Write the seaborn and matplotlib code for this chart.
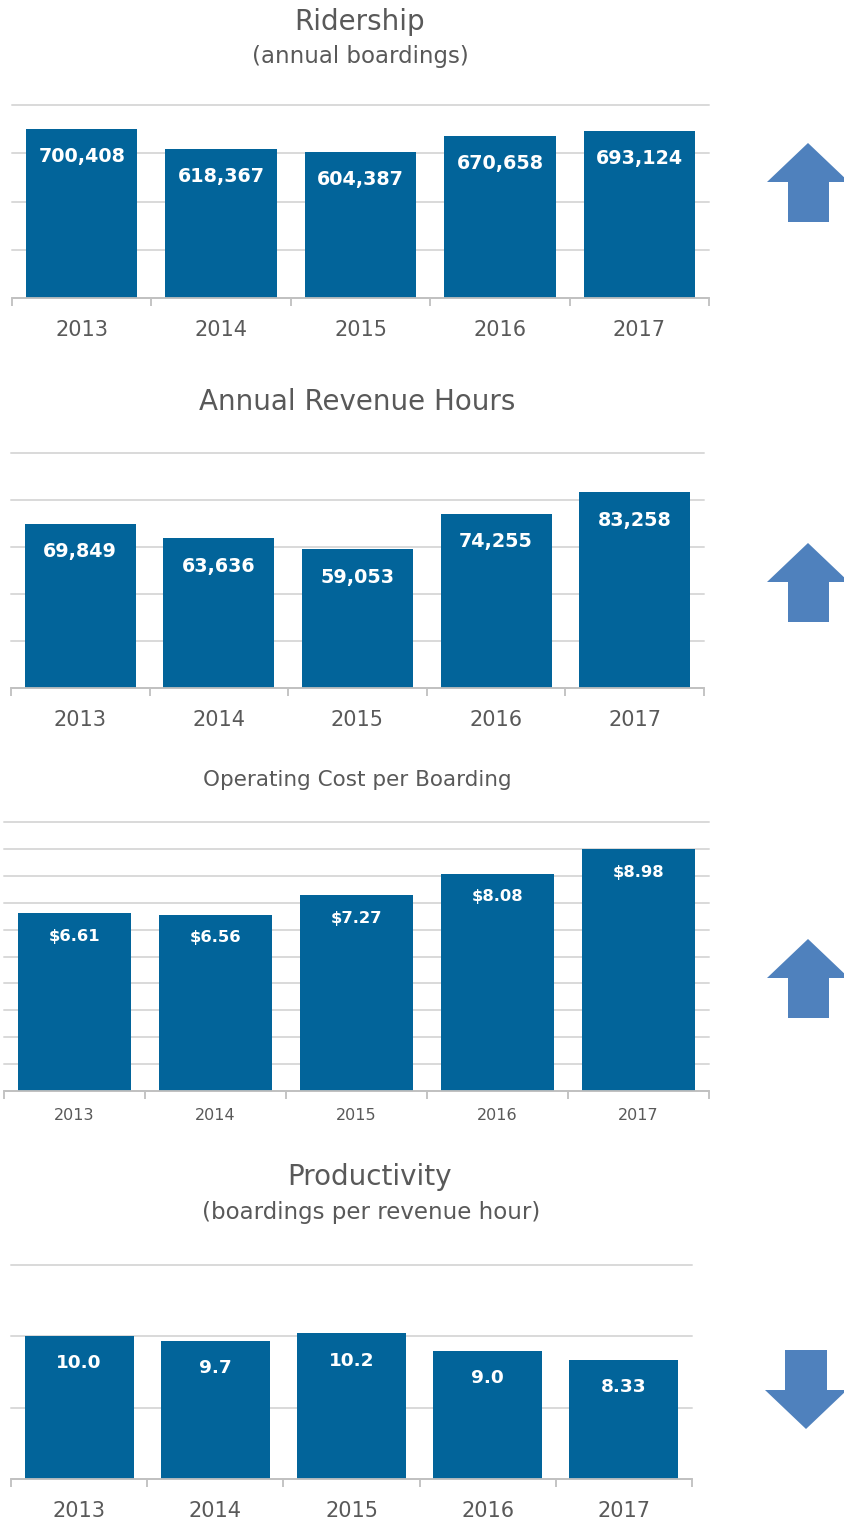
import matplotlib
matplotlib.use("Agg")
import matplotlib.pyplot as plt
import seaborn as sns
import pandas as pd
from matplotlib.patches import Polygon
from matplotlib.ticker import FixedLocator

sns.set_theme(style="white")
plt.rcParams['font.family'] = ['DejaVu Sans']

years = ["2013", "2014", "2015", "2016", "2017"]
ridership = [700408, 618367, 604387, 670658, 693124]
revenue_hours = [69849, 63636, 59053, 74255, 83258]
cost_per_boarding = [6.61, 6.56, 7.27, 8.08, 8.98]
productivity = [10.0, 9.7, 10.2, 9.0, 8.33]
ridership_labels = ["700,408", "618,367", "604,387", "670,658", "693,124"]
hours_labels = ["69,849", "63,636", "59,053", "74,255", "83,258"]
cost_labels = ["$6.61", "$6.56", "$7.27", "$8.08", "$8.98"]
prod_labels = ["10.0", "9.7", "10.2", "9.0", "8.33"]

W, H = 844, 1523
BAR = "#02649A"
GRID = "#D9D9D9"
AXIS = "#BFBFBF"
TXT = "#595959"
ARROW = "#4F81BD"

fig = plt.figure(figsize=(W / 100, H / 100), dpi=100)


def px_axes(left, right, top, bottom):
    return fig.add_axes([left / W, 1 - bottom / H, (right - left) / W, (bottom - top) / H])


def panel(box, values, labels, ymax, step, tick_fs, label_fs, pad, label_off):
    ax = px_axes(*box)
    df = pd.DataFrame({"year": years, "value": values})
    sns.barplot(data=df, x="year", y="value", ax=ax, color=BAR, saturation=1,
                width=0.8, edgecolor="none")
    ax.set_xlim(-0.5, len(years) - 0.5)
    ax.set_ylim(0, ymax)
    ax.yaxis.set_major_locator(FixedLocator([i * step for i in range(int(round(ymax / step)) + 1)]))
    ax.set_yticklabels([])
    ax.tick_params(axis="y", length=0)
    ax.grid(axis="y", color=GRID, linewidth=1.4)
    for gl in ax.get_ygridlines():
        gl.set_clip_on(False)
    ax.set_axisbelow(True)
    for s in ["top", "right", "left"]:
        ax.spines[s].set_visible(False)
    ax.spines["bottom"].set_color(AXIS)
    ax.spines["bottom"].set_linewidth(1.3)
    ax.xaxis.set_minor_locator(FixedLocator([i - 0.5 for i in range(len(years) + 1)]))
    ax.tick_params(axis="x", which="minor", length=6, width=1.3, color=AXIS, direction="out", bottom=True)
    ax.tick_params(axis="x", which="major", length=0, pad=pad, labelsize=tick_fs, labelcolor=TXT)
    ax.set_xlabel("")
    ax.set_ylabel("")
    for i, (v, lab) in enumerate(zip(values, labels)):
        ax.annotate(lab, xy=(i, v), xytext=(0, -label_off), textcoords="offset points",
                    ha="center", va="center", color="white", fontsize=label_fs,
                    fontweight="bold")
    return ax


panel((12, 709, 105, 298), ridership, ridership_labels, 800000, 200000, 15, 13.8, 15.5, 20)
panel((11, 704, 453, 688), revenue_hours, hours_labels, 100000, 20000, 15, 13.8, 15.5, 20)
panel((4, 709, 822, 1091), cost_per_boarding, cost_labels, 10, 1, 11.5, 11.8, 12, 16.5)
panel((11, 692, 1265, 1479), productivity, prod_labels, 15, 5, 15, 13.3, 15.5, 19.5)


def ftext(x, y, s, fs):
    fig.text(x / W, 1 - y / H, s, ha="center", va="center", fontsize=fs, color=TXT)


ftext(360, 22, "Ridership", 20)
ftext(360, 57, "(annual boardings)", 16.5)
ftext(357, 402, "Annual Revenue Hours", 20)
ftext(357, 780, "Operating Cost per Boarding", 15.5)
ftext(370, 1177, "Productivity", 20)
ftext(371, 1212, "(boardings per revenue hour)", 16.5)


def fig_poly(pts):
    p = Polygon([(x / W, 1 - y / H) for x, y in pts], closed=True,
                transform=fig.transFigure, facecolor=ARROW, edgecolor="none")
    fig.patches.append(p)


for top in (143, 543, 939):
    fig_poly([(808, top), (849, top + 39), (829, top + 39), (829, top + 79),
              (788, top + 79), (788, top + 39), (767, top + 39)])

fig_poly([(785, 1350), (827, 1350), (827, 1390), (847, 1390), (806, 1429),
          (765, 1390), (785, 1390)])

fig.savefig("out.png", dpi=100, facecolor="white")
